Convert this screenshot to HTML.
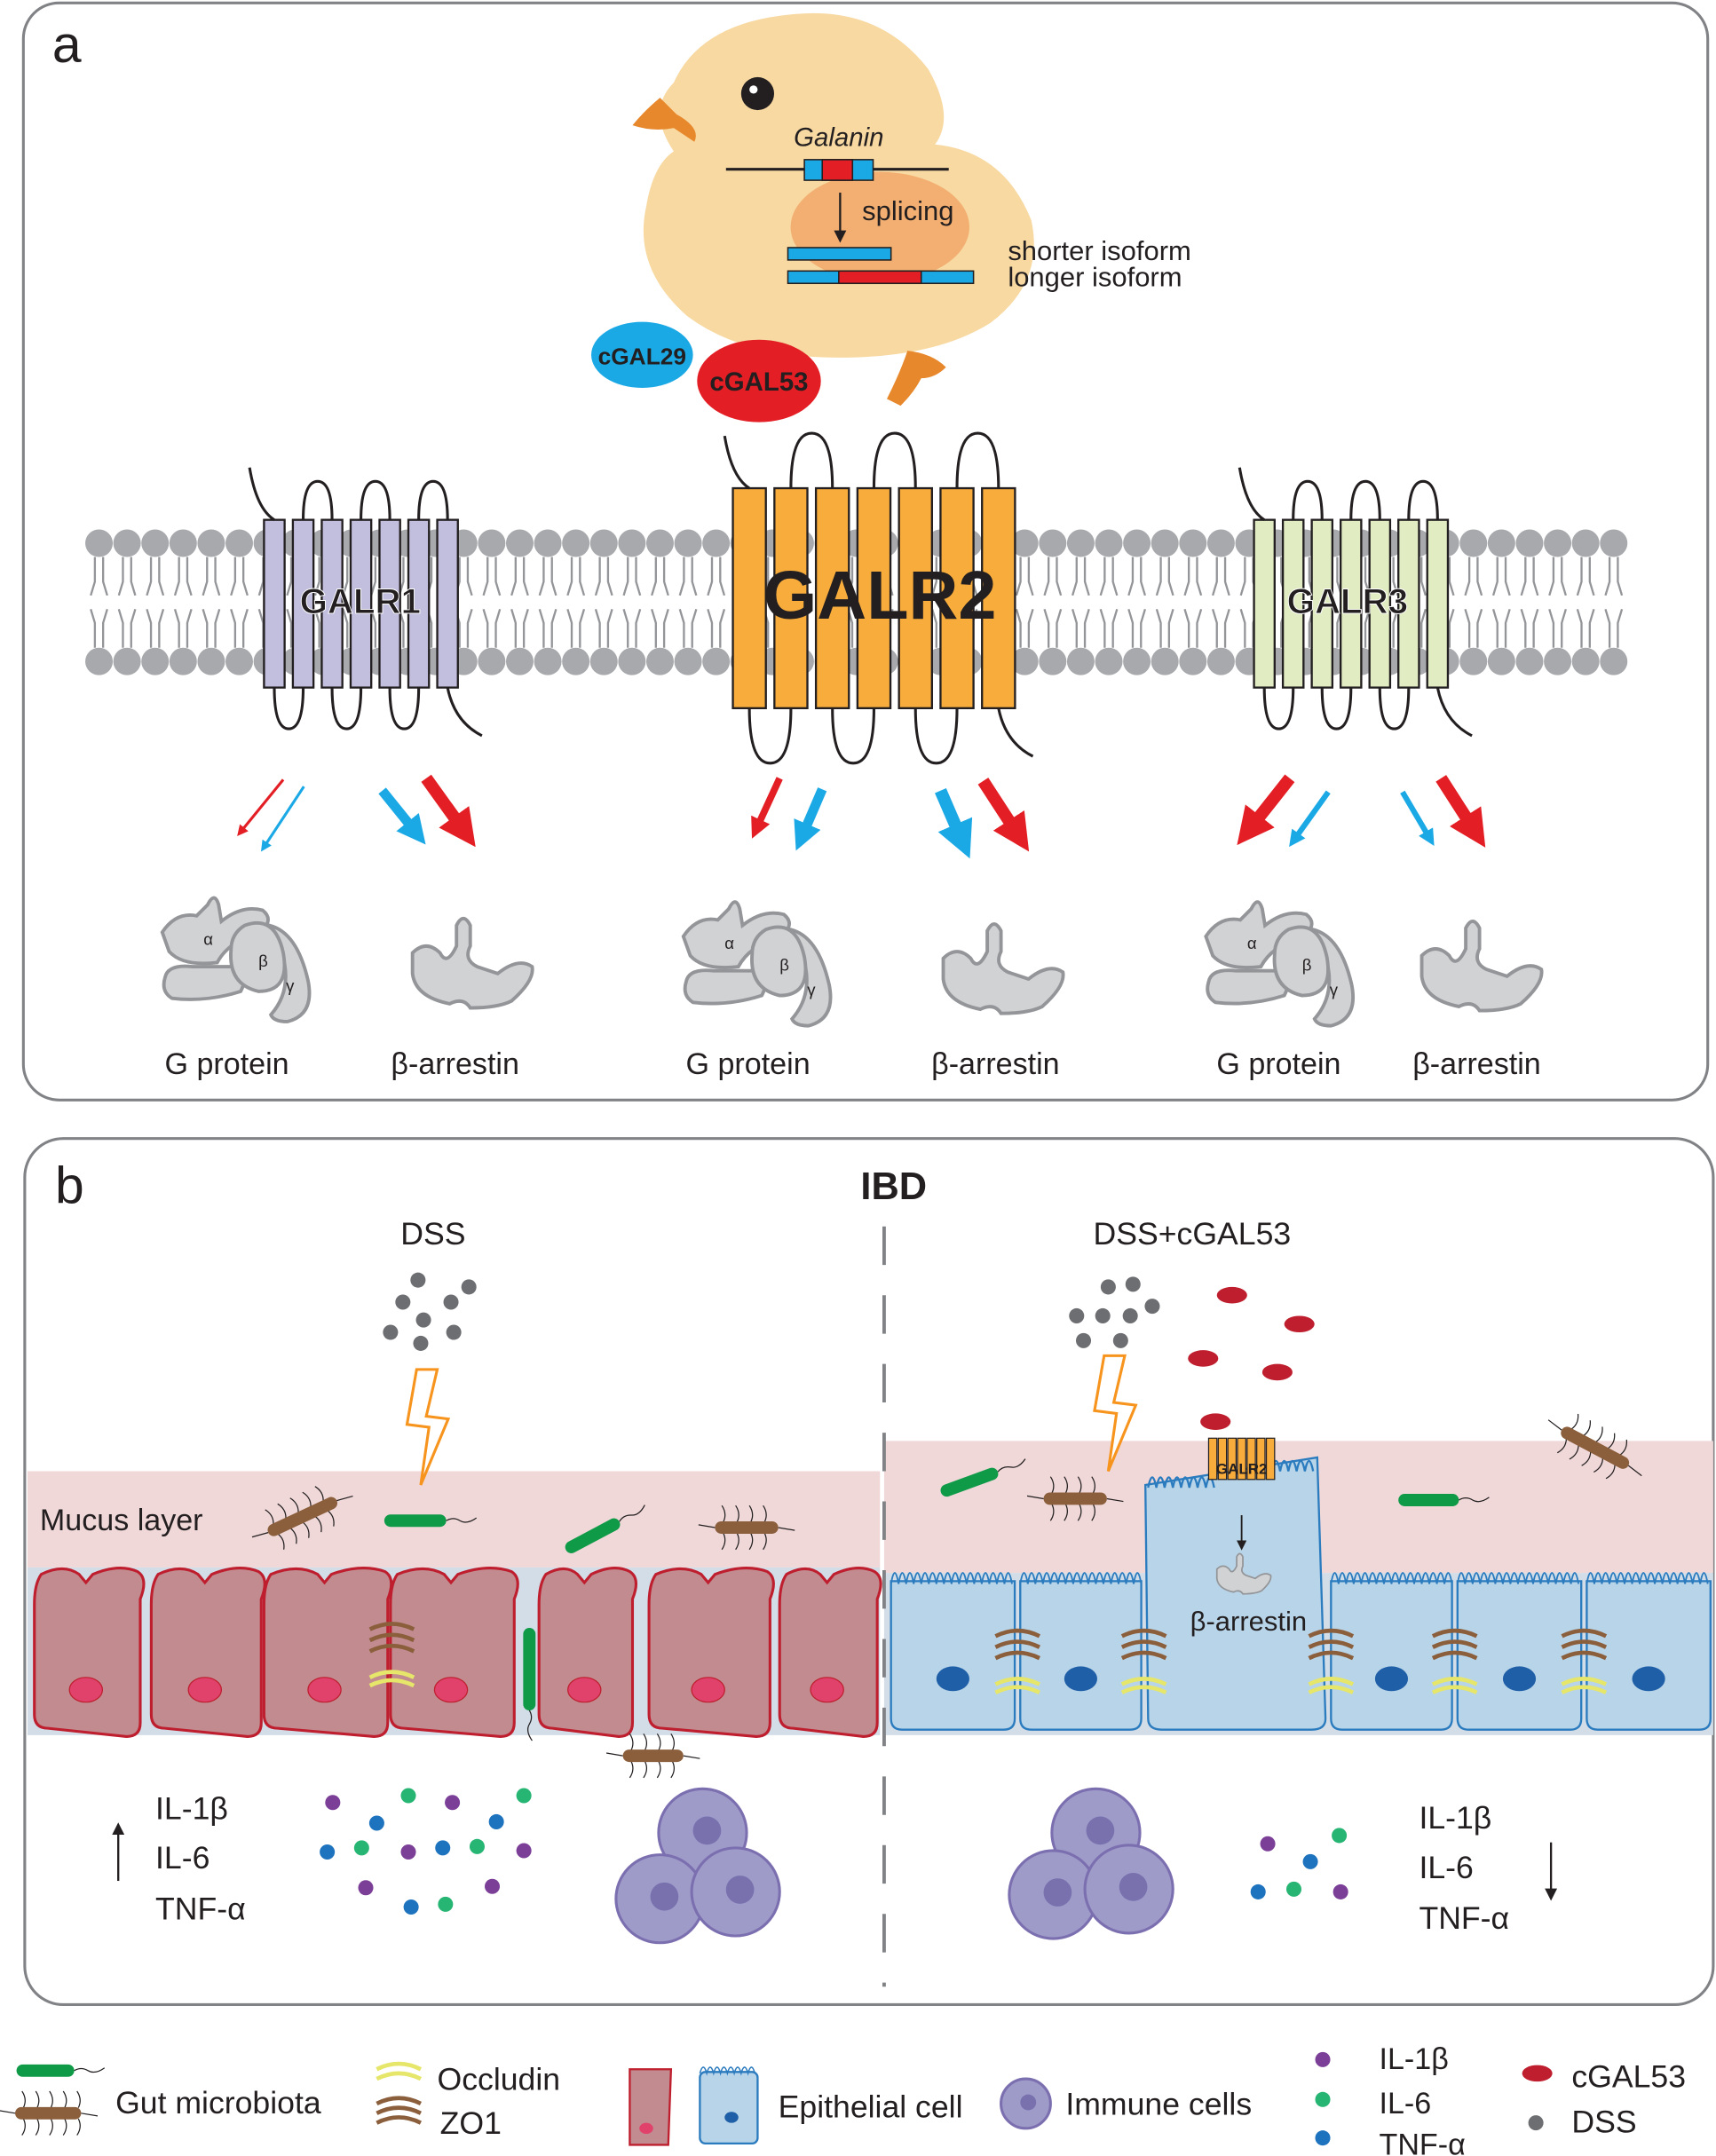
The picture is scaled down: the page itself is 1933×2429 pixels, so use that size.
<!DOCTYPE html>
<html><head><meta charset="utf-8"><style>
html,body{margin:0;padding:0;background:#fff}
svg{display:block}
text{font-family:"Liberation Sans",sans-serif;fill:#231f20}
</style></head><body>
<svg id="s" width="1933" height="2429" viewBox="0 0 1248 1568" xmlns="http://www.w3.org/2000/svg">
<defs>
<marker id="ar" markerWidth="4" markerHeight="4" refX="2" refY="2" orient="auto" markerUnits="strokeWidth"><path d="M0,0 L4,2 L0,4z" fill="context-stroke"/></marker>
<marker id="arR" markerWidth="3" markerHeight="3" refX="1.5" refY="1.5" orient="auto" markerUnits="strokeWidth"><path d="M0,0 L3,1.5 L0,3z" fill="#e31e24"/></marker>
<marker id="arB" markerWidth="3" markerHeight="3" refX="1.5" refY="1.5" orient="auto" markerUnits="strokeWidth"><path d="M0,0 L3,1.5 L0,3z" fill="#1ba9e6"/></marker>
<marker id="arK" markerWidth="6" markerHeight="6" refX="3" refY="3" orient="auto" markerUnits="strokeWidth"><path d="M0,0 L6,3 L0,6z" fill="#231f20"/></marker>
<g id="gp">
<path d="M-50,-25 q10,-15 25,-12 l8,-8 q5,-10 8,0 l2,12 q15,-12 30,-8 q10,8 -5,18 q-20,5 -28,20 q-25,3 -35,-8z" fill="#d1d2d4" stroke="#939598" stroke-width="2.5"/>
<path d="M-48,8 q2,-10 20,-8 l30,0 q12,5 5,18 q-25,8 -50,5 q-8,-5 -5,-15z" fill="#d1d2d4" stroke="#939598" stroke-width="2.5"/>
<path d="M28,-30 q20,5 28,40 q5,25 -15,30 q-10,0 -12,-5 q22,-25 -1,-65z" fill="#d1d2d4" stroke="#939598" stroke-width="2.5"/>
<path d="M10,-30 q22,-8 28,20 q5,28 -18,28 q-22,-5 -20,-30 q0,-12 10,-18z" fill="#d1d2d4" stroke="#939598" stroke-width="2.5"/>
<text x="-20" y="-16" font-size="12">α</text><text x="20" y="0" font-size="12">β</text><text x="40" y="18" font-size="12">γ</text>
</g>
<g id="ba"><path d="M-40,-15 q10,-10 20,0 q5,10 12,-5 l0,-15 q5,-10 10,0 l0,15 q-5,10 5,15 l15,5 q15,-12 25,-5 q2,10 -15,25 q-10,5 -30,5 q-5,-8 -15,-3 q-25,-5 -27,-22z" fill="#d1d2d4" stroke="#939598" stroke-width="2.5"/></g>
</defs>
<!-- panel a -->
<rect x="17" y="2" width="1225" height="798" rx="26" fill="none" stroke="#808285" stroke-width="2"/>
<text x="38" y="45" font-size="38">a</text>
<!-- chick -->
<path d="M490,60 q20,-45 90,-50 q60,-5 95,40 q20,35 5,55 q50,5 70,55 q10,45 -30,75 q-40,25 -110,25 q-70,0 -110,-30 q-40,-35 -30,-80 q5,-30 20,-40 q-20,-30 0,-50z" fill="#f8d9a2"/>
<ellipse cx="640" cy="165" rx="65" ry="40" fill="#f0a060" opacity="0.75"/>
<circle cx="551" cy="68" r="12" fill="#231f20"/><circle cx="548" cy="65" r="3" fill="#fff"/>
<path d="M492,83 l-12,-12 q-12,10 -20,20 q15,5 30,2 l15,10 q5,-10 -13,-20z" fill="#e8882c"/>
<path d="M660,255 q-5,15 -15,35 l10,5 q10,-10 15,-20 q10,0 18,-8 q-10,-10 -28,-12z" fill="#e8882c"/>
<text x="610" y="106" font-size="19" font-style="italic" text-anchor="middle">Galanin</text>
<line x1="528" y1="123" x2="690" y2="123" stroke="#231f20" stroke-width="2"/>
<rect x="585" y="116" width="50" height="15" fill="#1ba9e6" stroke="#231f20" stroke-width="1"/><rect x="598" y="116" width="22" height="15" fill="#e31e24" stroke="#231f20" stroke-width="1"/>
<line x1="611" y1="140" x2="611" y2="172" stroke="#231f20" stroke-width="1.5" marker-end="url(#arK)"/>
<text x="627" y="160" font-size="20">splicing</text>
<rect x="573" y="180" width="75" height="9" fill="#1ba9e6" stroke="#231f20" stroke-width="1"/>
<rect x="573" y="197" width="135" height="9" fill="#1ba9e6" stroke="#231f20" stroke-width="1"/><rect x="610" y="197" width="60" height="9" fill="#e31e24" stroke="#231f20" stroke-width="1"/>
<text x="733" y="189" font-size="20">shorter isoform</text><text x="733" y="208" font-size="20">longer isoform</text>
<ellipse cx="467" cy="258" rx="37" ry="24" fill="#1ba9e6"/><text x="467" y="265" font-size="17" font-weight="bold" text-anchor="middle">cGAL29</text>
<ellipse cx="552" cy="277" rx="45" ry="30" fill="#e31e24"/><text x="552" y="284" font-size="19" font-weight="bold" text-anchor="middle">cGAL53</text>
<g id="mem"></g>
<g id="rec"></g>
<text x="262" y="446" font-size="26" font-weight="bold" text-anchor="middle" stroke="#fff" stroke-width="0.6">GALR1</text>
<text x="640" y="450" font-size="50" font-weight="bold" text-anchor="middle">GALR2</text>
<text x="980" y="446" font-size="26" font-weight="bold" text-anchor="middle" stroke="#fff" stroke-width="0.6">GALR3</text>
<!-- arrows -->
<g fill="none">
<line x1="206" y1="567" x2="175" y2="605" stroke="#e31e24" stroke-width="2" marker-end="url(#ar)"/>
<line x1="221" y1="572" x2="192" y2="616" stroke="#1ba9e6" stroke-width="2" marker-end="url(#ar)"/>
<line x1="278" y1="575" x2="303" y2="606" stroke="#1ba9e6" stroke-width="7" marker-end="url(#arB)"/>
<line x1="310" y1="566" x2="338" y2="605" stroke="#e31e24" stroke-width="9" marker-end="url(#arR)"/>
<line x1="567" y1="566" x2="550" y2="603" stroke="#e31e24" stroke-width="5" marker-end="url(#arR)"/>
<line x1="598" y1="574" x2="583" y2="609" stroke="#1ba9e6" stroke-width="7" marker-end="url(#arB)"/>
<line x1="684" y1="575" x2="700" y2="612" stroke="#1ba9e6" stroke-width="9" marker-end="url(#arB)"/>
<line x1="715" y1="568" x2="741" y2="608" stroke="#e31e24" stroke-width="9" marker-end="url(#arR)"/>
<line x1="938" y1="566" x2="908" y2="604" stroke="#e31e24" stroke-width="9" marker-end="url(#arR)"/>
<line x1="966" y1="576" x2="941" y2="611" stroke="#1ba9e6" stroke-width="4" marker-end="url(#arB)"/>
<line x1="1020" y1="576" x2="1040" y2="610" stroke="#1ba9e6" stroke-width="4" marker-end="url(#arB)"/>
<line x1="1048" y1="566" x2="1073" y2="605" stroke="#e31e24" stroke-width="9" marker-end="url(#arR)"/>
</g>
<use href="#gp" x="168" y="703"/><use href="#ba" x="340" y="708"/>
<use href="#gp" x="547" y="706"/><use href="#ba" x="726" y="712"/>
<use href="#gp" x="927" y="706"/><use href="#ba" x="1074" y="710"/>
<text x="165" y="781" font-size="22" text-anchor="middle">G protein</text><text x="331" y="781" font-size="22" text-anchor="middle">β-arrestin</text>
<text x="544" y="781" font-size="22" text-anchor="middle">G protein</text><text x="724" y="781" font-size="22" text-anchor="middle">β-arrestin</text>
<text x="930" y="781" font-size="22" text-anchor="middle">G protein</text><text x="1074" y="781" font-size="22" text-anchor="middle">β-arrestin</text>
<!-- panel b -->
<rect x="18" y="828" width="1228" height="630" rx="28" fill="none" stroke="#808285" stroke-width="2"/>
<text x="40" y="875" font-size="38">b</text>
<text x="650" y="872" font-size="28" font-weight="bold" text-anchor="middle">IBD</text>
<text x="315" y="905" font-size="23" text-anchor="middle">DSS</text>
<text x="867" y="905" font-size="23" text-anchor="middle">DSS+cGAL53</text>
<rect x="20" y="1070" width="620" height="70" fill="#f0d8d8"/>
<rect x="20" y="1140" width="620" height="122" fill="#d2dde8"/>
<rect x="643" y="1048" width="603" height="96" fill="#f0d8d8"/>
<rect x="643" y="1144" width="603" height="118" fill="#d2dde8"/>
<line x1="643" y1="892" x2="643" y2="1445" stroke="#808285" stroke-width="2.5" stroke-dasharray="28,22"/>
<text x="29" y="1113" font-size="22">Mucus layer</text>
<g id="cellsL"></g><g id="cellsR"></g>
<!-- tall center cell -->
<path d="M833,1080 L958,1060 L964,1250 q0,8 -10,8 L845,1258 q-10,0 -10,-8z" fill="#b8d4e8" stroke="#2b7bbf" stroke-width="1.5"/>
<path d="M835,1082 q3,-15 6,0 q3,-15 6,0 q3,-15 6,0 q3,-15 6,0 q3,-15 6,0 q3,-15 6,0 q3,-15 6,0 q3,-15 6,0 M925,1070 q3,-15 6,0 q3,-15 6,0 q3,-15 6,0 q3,-15 6,0 q3,-15 6,0" fill="none" stroke="#2b7bbf" stroke-width="1.5"/>
<g fill="#f8ac3c" stroke="#231f20" stroke-width="0.8"><rect x="879" y="1046" width="6" height="30"/><rect x="886" y="1046" width="6" height="30"/><rect x="893" y="1046" width="6" height="30"/><rect x="900" y="1046" width="6" height="30"/><rect x="907" y="1046" width="6" height="30"/><rect x="914" y="1046" width="6" height="30"/><rect x="921" y="1046" width="6" height="30"/></g>
<text x="903" y="1072" font-size="11" font-weight="bold" text-anchor="middle">GALR2</text>
<ellipse cx="884" cy="1034" rx="11" ry="6" fill="#be1e2d"/>
<line x1="903" y1="1102" x2="903" y2="1124" stroke="#231f20" stroke-width="1.2" marker-end="url(#arK)"/>
<use href="#ba" x="0" y="0" transform="translate(903,1148) scale(0.45)"/>
<text x="908" y="1186" font-size="20" text-anchor="middle">β-arrestin</text>
<g id="misc"></g>
<text x="113" y="1323" font-size="23">IL-1β</text><text x="113" y="1359" font-size="23">IL-6</text><text x="113" y="1396" font-size="23">TNF-α</text>
<line x1="86" y1="1368" x2="86" y2="1330" stroke="#231f20" stroke-width="1.5" marker-end="url(#arK)"/>
<text x="1032" y="1330" font-size="23">IL-1β</text><text x="1032" y="1366" font-size="23">IL-6</text><text x="1032" y="1403" font-size="23">TNF-α</text>
<line x1="1128" y1="1340" x2="1128" y2="1378" stroke="#231f20" stroke-width="1.5" marker-end="url(#arK)"/>
<!-- lightning -->
<path d="M303,996 L318,996 L310,1030 L326,1032 L306,1080 L312,1038 L296,1036z" fill="#fff" stroke="#f7941d" stroke-width="2"/>
<path d="M803,986 L818,986 L810,1020 L826,1022 L806,1070 L812,1028 L796,1026z" fill="#fff" stroke="#f7941d" stroke-width="2"/>
<!-- legend -->
<text x="84" y="1537" font-size="23">Gut microbiota</text>
<text x="318" y="1520" font-size="23">Occludin</text><text x="320" y="1552" font-size="23">ZO1</text>
<text x="566" y="1540" font-size="23">Epithelial cell</text>
<text x="775" y="1538" font-size="23">Immune cells</text>
<text x="1003" y="1505" font-size="22">IL-1β</text><text x="1003" y="1537" font-size="22">IL-6</text><text x="1003" y="1567" font-size="22">TNF-α</text>
<text x="1143" y="1518" font-size="23">cGAL53</text><text x="1143" y="1551" font-size="23">DSS</text>
</svg>
<script>
var NS="http://www.w3.org/2000/svg";
function el(p,t,a){var e=document.createElementNS(NS,t);for(var k in a)e.setAttribute(k,a[k]);document.getElementById(p).appendChild(e);return e;}
// membrane
for(var x=72;x<=1176;x+=20.4){
 el("mem","path",{d:"M"+(x-3)+",405 l0,18 l-3,10 M"+(x+3)+",405 l0,18 l3,10 M"+(x-3)+",471 l0,-18 l-3,-10 M"+(x+3)+",471 l0,-18 l3,-10",stroke:"#939598","stroke-width":1.5,fill:"none"});
 el("mem","circle",{cx:x,cy:395,r:10,fill:"#a7a9ac"});
 el("mem","circle",{cx:x,cy:481,r:10,fill:"#a7a9ac"});
}
function rec(x0,w,gap,y0,y1,fill,top,bot){
 var d="";
 for(var i=0;i<7;i++){var x=x0+i*(w+gap);
  el("rec","rect",{x:x,y:y0,width:w,height:y1-y0,fill:fill,stroke:"#231f20","stroke-width":1.5});}
 var c=x0+w/2;
 d+="M"+(c-18)+","+(y0-38)+" q5,30 18,38";
 for(var i=0;i<6;i++){var a=x0+i*(w+gap)+w/2,b=a+w+gap;
  if(i%2==1){d+="M"+a+","+y0+" q0,"+(-top)+" "+((b-a)/2)+","+(-top)+" q"+((b-a)/2)+",0 "+((b-a)/2)+","+top;}
  else{d+="M"+a+","+y1+" q0,"+bot+" "+((b-a)/2)+","+bot+" q"+((b-a)/2)+",0 "+((b-a)/2)+","+(-bot);}
 }
 var e=x0+6*(w+gap)+w/2;d+="M"+e+","+y1+" q5,25 25,35";
 el("rec","path",{d:d,fill:"none",stroke:"#231f20","stroke-width":2});
}
rec(192,15,6,378,500,"#c2bedd",28,30);
rec(533,24,6.2,355,515,"#f8ac3c",40,40);
rec(912,15,6,378,500,"#e1ecc2",28,30);
// left cells
var L=[[25,100],[110,188],[192,280],[284,372],[392,458],[472,558],[567,636]];
L.forEach(function(c){var a=c[0],b=c[1],m=(a+b)/2;
 el("cellsL","path",{d:"M"+(a+5)+",1145 q"+((m-a-5)/2)+",-8 "+(m-a-10)+",0 l5,6 l5,-6 q"+((b-m)/2)+",-8 "+(b-m-5)+",-2 q8,5 2,20 l0,90 q0,10 -10,10 L"+(a+10)+",1257 q-10,0 -10,-10 l0,-80 q0,-15 5,-22z",fill:"#c18b90",stroke:"#be1e2d","stroke-width":2});
 el("cellsL","ellipse",{cx:m,cy:1229,rx:12,ry:9,fill:"#e0426c",stroke:"#be1e2d","stroke-width":0.8});
});
// right cells
var R=[[648,738],[742,830],[968,1056],[1060,1150],[1154,1244]];
R.forEach(function(c){var a=c[0],b=c[1],m=(a+b)/2,d="";
 el("cellsR","path",{d:"M"+a+",1150 L"+b+",1150 L"+b+",1250 q0,8 -8,8 L"+(a+8)+",1258 q-8,0 -8,-8z",fill:"#b8d4e8",stroke:"#2b7bbf","stroke-width":1.5});
 d="M"+a+",1152";for(var x=a;x<b-4;x+=5.5)d+=" q2.7,-16 5.5,0";
 el("cellsR","path",{d:d,fill:"none",stroke:"#2b7bbf","stroke-width":1.2});
 el("cellsR","ellipse",{cx:m,cy:1221,rx:12,ry:9,fill:"#1f5fa8"});
});
el("cellsR","ellipse",{cx:906,cy:1219,rx:12,ry:9,fill:"#1f5fa8"});
// junctions
function junc(x,y){for(var i=0;i<3;i++)el("misc","path",{d:"M"+(x-16)+","+(y+i*8)+" q16,-8 32,0",fill:"none",stroke:"#8b5e3c","stroke-width":3});
 for(var i=0;i<2;i++)el("misc","path",{d:"M"+(x-16)+","+(y+35+i*6)+" q16,-8 32,0",fill:"none",stroke:"#e6e66a","stroke-width":3});}
junc(285,1185);[740,832,968,1058,1152].forEach(function(x){junc(x,1190);});
// bacteria
function bac(x,y,len,ang,col,hair){var g=el("misc","g",{transform:"translate("+x+","+y+") rotate("+ang+")"});
 var h=len/2;
 if(hair){var d="";for(var i=-h+6;i<h;i+=10){d+="M"+i+",-4 q3,-6 -1,-12 M"+i+",4 q3,6 -1,12 ";}d+="M"+(-h)+",0 l-12,-2 M"+h+",0 l12,2";
  g.appendChild(Object.assign(document.createElementNS(NS,"path"),{}));g.lastChild.setAttribute("d",d);g.lastChild.setAttribute("stroke","#231f20");g.lastChild.setAttribute("fill","none");g.lastChild.setAttribute("stroke-width","0.8");}
 else{var p=document.createElementNS(NS,"path");p.setAttribute("d","M"+h+",0 q5,-3 10,0 q5,3 12,-2");p.setAttribute("stroke","#231f20");p.setAttribute("fill","none");p.setAttribute("stroke-width","0.8");g.appendChild(p);}
 var r=document.createElementNS(NS,"rect");r.setAttribute("x",-h);r.setAttribute("y",-4.5);r.setAttribute("width",len);r.setAttribute("height",9);r.setAttribute("rx",4.5);r.setAttribute("fill",col);g.appendChild(r);}
var BR="#8b5e3c",GR="#0f9a48";
bac(220,1103,55,-25,BR,1);bac(302,1106,45,0,GR,0);bac(431,1117,44,-28,GR,0);bac(543,1111,46,0,BR,1);bac(385,1214,60,90,GR,0);bac(475,1277,44,0,BR,1);
bac(705,1078,44,-20,GR,0);bac(782,1090,46,0,BR,1);bac(1039,1091,44,0,GR,0);bac(1160,1053,55,28,BR,1);
bac(33,1506,42,0,GR,0);bac(35,1537,48,0,BR,1);
// DSS dots
[[304,931],[341,936],[293,947],[328,947],[308,960],[284,969],[330,969],[306,977]].forEach(function(p){el("misc","circle",{cx:p[0],cy:p[1],r:5.5,fill:"#6d6e71"});});
[[806,936],[824,934],[783,957],[802,957],[822,957],[838,950],[788,975],[815,975]].forEach(function(p){el("misc","circle",{cx:p[0],cy:p[1],r:5.5,fill:"#6d6e71"});});
// cGAL53 ovals
[[896,942],[945,963],[875,988],[929,998]].forEach(function(p){el("misc","ellipse",{cx:p[0],cy:p[1],rx:11,ry:6,fill:"#be1e2d"});});
// cytokines
var P="#7b3f98",G="#27b574",B="#1e73be";
[[242,1311,P],[297,1306,G],[329,1311,P],[381,1306,G],[238,1347,B],[263,1344,G],[274,1326,B],[297,1347,P],[322,1344,B],[347,1343,G],[361,1325,B],[381,1346,P],[266,1373,P],[299,1387,B],[324,1385,G],[358,1372,P],
 [922,1341,P],[974,1335,G],[953,1354,B],[915,1376,B],[941,1374,G],[975,1376,P],
 [962,1498,P],[962,1527,G],[962,1555,B]].forEach(function(p){el("misc","circle",{cx:p[0],cy:p[1],r:5.5,fill:p[2]});});
el("misc","ellipse",{cx:1118,cy:1508,rx:11,ry:6,fill:"#be1e2d"});el("misc","circle",{cx:1117,cy:1544,r:5.5,fill:"#6d6e71"});
// immune cells
function imm(x,y,r){el("misc","circle",{cx:x,cy:y,r:r,fill:"#9e9bc9",stroke:"#7b6fb0","stroke-width":2});el("misc","circle",{cx:x+r*0.1,cy:y-r*0.05,r:r*0.32,fill:"#6e67a8",opacity:0.8});}
imm(511,1333,32);imm(480,1381,32);imm(535,1376,32);
imm(797,1333,32);imm(766,1378,32);imm(821,1374,32);
imm(746,1530,18);
// legend epithelial icons
el("misc","path",{d:"M458,1505 l30,0 l-2,55 l-28,0z",fill:"#c18b90",stroke:"#be1e2d","stroke-width":1.5});
el("misc","ellipse",{cx:470,cy:1548,rx:5,ry:4,fill:"#e0426c"});
el("misc","rect",{x:509,y:1507,width:42,height:52,rx:4,fill:"#b8d4e8",stroke:"#2b7bbf","stroke-width":1.5});
el("misc","ellipse",{cx:532,cy:1540,rx:5,ry:4,fill:"#1f5fa8"});
(function(){var d="M509,1508";for(var x=509;x<549;x+=5)d+=" q2.5,-9 5,0";el("misc","path",{d:d,fill:"none",stroke:"#2b7bbf","stroke-width":1});})();
// legend junctions
[1505,1512].forEach(function(y){el("misc","path",{d:"M274,"+y+" q16,-8 32,0",fill:"none",stroke:"#e6e66a","stroke-width":3});});
[1530,1537,1544].forEach(function(y){el("misc","path",{d:"M274,"+y+" q16,-8 32,0",fill:"none",stroke:"#8b5e3c","stroke-width":3});});
</script>
</body></html>
